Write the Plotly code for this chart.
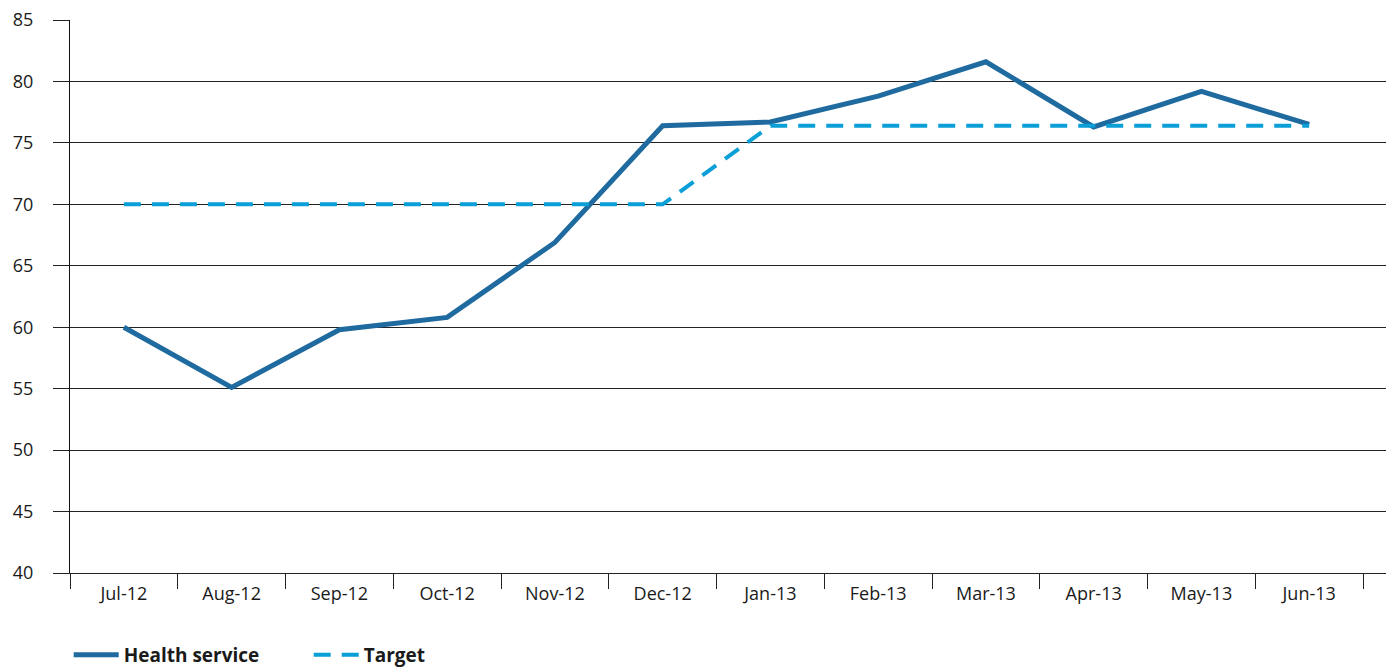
import plotly.graph_objects as go

months = ["Jul-12", "Aug-12", "Sep-12", "Oct-12", "Nov-12", "Dec-12",
          "Jan-13", "Feb-13", "Mar-13", "Apr-13", "May-13", "Jun-13"]
health_service = [60.0, 55.1, 59.8, 60.8, 66.9, 76.4, 76.7, 78.8, 81.6, 76.3, 79.2, 76.5]
target = [70, 70, 70, 70, 70, 70, 76.4, 76.4, 76.4, 76.4, 76.4, 76.4]

FONT = "Open Sans"
fig = go.Figure()
fig.add_trace(go.Scatter(x=months, y=health_service, mode="lines", name="<b>Health service</b>",
                         line=dict(color="#1f6a9f", width=5)))
fig.add_trace(go.Scatter(x=months, y=target, mode="lines", name="<b>Target</b>",
                         line=dict(color="#0a9fd6", width=4, dash="17px,11px")))

fig.update_layout(
    width=1386, height=668,
    margin=dict(l=70, r=0, t=20, b=95, autoexpand=False),
    paper_bgcolor="white", plot_bgcolor="white",
    font=dict(family=FONT, size=18, color="#1a1a1a"),
    showlegend=True,
    legend=dict(orientation="h", x=-0.001, xanchor="left", y=-0.148, yanchor="middle",
                font=dict(size=19, color="#1a1a1a"), entrywidth=180, entrywidthmode="pixels",
                itemwidth=45),
    xaxis=dict(type="category", range=[-0.5, 11.713], tickson="boundaries",
               ticks="outside", ticklen=15, tickcolor="#222", tickwidth=1.3,
               showgrid=False, showline=True, linecolor="#222", linewidth=1.3,
               tickfont=dict(size=18), ticklabelstandoff=4, automargin=False),
    yaxis=dict(range=[40, 85], dtick=5, tick0=40, showgrid=True, gridcolor="#222", gridwidth=1.3,
               ticks="outside", ticklen=16, tickcolor="#222", tickwidth=1.3,
               showline=True, linecolor="#111", linewidth=1.3, zeroline=False,
               ticklabelstandoff=16, tickfont=dict(size=18), automargin=False),
)
fig.write_html("out.html")
